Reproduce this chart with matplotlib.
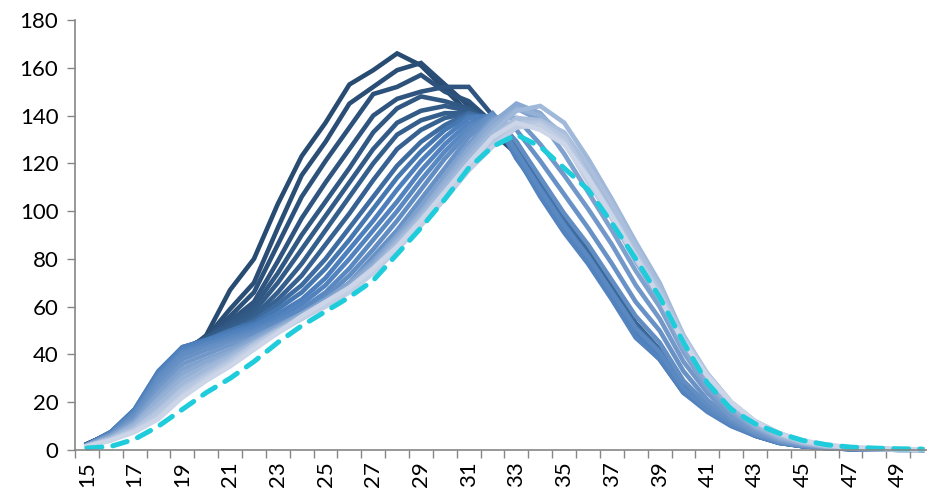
import numpy as np
import matplotlib
matplotlib.use("Agg")
import matplotlib.pyplot as plt
from matplotlib.colors import LinearSegmentedColormap

# ages on the category axis
ages = list(range(15, 51))

# one curve per year, oldest (dark) first, newest (light) last
s01 = [2.5, 7, 15, 29, 40, 48, 67, 80, 103, 123, 137, 153, 159, 166, 161, 151, 141, 133, 124, 109, 94, 80, 65, 49, 39, 25, 18, 15, 12, 7, 3.5, 1.5, 0.7, 0.4, 0.2, 0.1]
s02 = [2.5, 7, 15, 29, 41, 47, 59, 70, 93, 115, 129, 145, 152, 159, 162, 153, 144, 134, 125, 111, 96, 82, 67, 51, 41, 26, 18, 13, 9, 5, 2.2, 1.0, 0.5, 0.3, 0.2, 0.1]
s03 = [2.4, 7, 15, 30, 41, 47, 56, 66, 86, 106, 121, 135, 149, 152, 157, 150, 146, 137, 126, 113, 98, 84, 69, 53, 42, 27, 18, 11, 7, 3.5, 1.8, 0.9, 0.5, 0.3, 0.2, 0.1]
s04 = [2.4, 7, 15, 30, 41, 47, 54, 62, 79, 97, 112, 126, 140, 147, 150, 152, 152, 140, 128, 110, 95, 81, 66, 50, 40, 25, 17, 11, 7, 3.5, 1.8, 0.9, 0.5, 0.3, 0.2, 0.1]
s05 = [2.3, 7, 15, 30, 42, 47, 53, 60, 74, 90, 104, 118, 133, 143, 148, 146, 143, 137, 127, 108, 93, 79, 64, 48, 38, 24, 17, 11, 6.5, 3.5, 1.7, 0.9, 0.5, 0.3, 0.2, 0.1]
s06 = [2.3, 7, 16, 31, 42, 47, 52, 58, 70, 84, 98, 112, 126, 137, 142, 144, 142, 138, 127, 112, 97, 83, 68, 52, 41, 26, 17, 11, 6.5, 3.2, 1.7, 0.9, 0.5, 0.3, 0.2, 0.1]
s07 = [2.3, 7, 16, 31, 42, 46, 51, 56, 66, 78, 92, 106, 120, 132, 138, 141, 141, 137, 128, 111, 96, 82, 67, 51, 40, 25, 17, 11, 6.5, 3.2, 1.6, 0.8, 0.4, 0.2, 0.1, 0.1]
s08 = [2.2, 7, 16, 32, 42, 46, 50, 55, 63, 73, 86, 99, 113, 126, 134, 139, 141, 139, 129, 113, 98, 84, 69, 53, 42, 27, 18, 11, 6.5, 3.2, 1.6, 0.8, 0.4, 0.2, 0.1, 0.1]
s09 = [2.2, 7.5, 16, 32, 43, 46, 50, 54, 61, 69, 80, 93, 106, 119, 129, 136, 141, 138, 126, 112, 97, 82, 67, 52, 42, 27, 18, 11, 6, 3, 1.6, 0.8, 0.4, 0.2, 0.1, 0.1]
s10 = [2.2, 7.5, 17, 33, 43, 46, 50, 53, 59, 66, 76, 88, 101, 114, 125, 134, 140, 139, 124, 110, 95, 80, 65, 50, 40, 26, 17, 11, 6, 3, 1.6, 0.8, 0.4, 0.2, 0.1, 0.1]
s11 = [2.1, 7.5, 17, 33, 43, 46, 49, 52, 57, 63, 72, 84, 96, 109, 121, 131, 139, 140, 122, 108, 93, 79, 64, 49, 39, 25, 17, 10.5, 6, 3, 1.6, 0.8, 0.4, 0.2, 0.1, 0.1]
s12 = [2.1, 7, 16, 32, 42, 45, 48, 51, 55, 61, 69, 80, 92, 104, 117, 128, 137, 139, 123, 106, 91, 78, 63, 47, 38, 24, 16, 10, 6, 3, 1.6, 0.8, 0.4, 0.2, 0.1, 0.1]
s13 = [2, 7, 16, 31, 41, 44, 47, 50, 54, 59, 66, 76, 88, 100, 113, 125, 135, 140, 125, 109, 94, 81, 66, 51, 41, 26, 17, 11, 6.5, 3.2, 1.7, 0.9, 0.4, 0.2, 0.1, 0.1]
s14 = [2, 6.5, 15, 30, 40, 43, 46, 49, 53, 57, 64, 73, 84, 96, 109, 122, 133, 141, 129, 114, 99, 86, 71, 56, 45, 29, 19, 12, 7, 3.5, 1.8, 0.9, 0.5, 0.2, 0.1, 0.1]
s15 = [2, 6.5, 14, 28, 38, 42, 45, 48, 52, 56, 62, 70, 81, 92, 105, 118, 131, 140, 134, 121, 107, 93, 78, 62, 50, 33, 21, 13, 7, 3.5, 1.8, 0.9, 0.5, 0.3, 0.1, 0.1]
s16 = [1.9, 6, 13, 26, 36, 40, 44, 47, 51, 55, 61, 68, 78, 89, 102, 115, 128, 139, 139, 128, 115, 101, 86, 69, 55, 37, 24, 14, 8, 4, 2, 1, 0.5, 0.3, 0.2, 0.1]
s17 = [1.9, 6, 12, 24, 34, 38, 42, 47, 52, 57, 63, 70, 79, 90, 102, 115, 127, 138, 143, 138, 124, 108, 92, 75, 60, 41, 26, 16, 9, 4.5, 2.4, 1.2, 0.6, 0.3, 0.2, 0.1]
s18 = [1.8, 5.5, 11, 22, 32, 37, 41, 46, 51, 57, 62, 69, 78, 89, 100, 113, 126, 137, 145, 141, 130, 113, 97, 79, 63, 43, 28, 17, 10, 5, 2.6, 1.3, 0.7, 0.4, 0.2, 0.1]
s19 = [1.8, 5, 11, 21, 30, 35, 40, 45, 51, 56, 62, 68, 77, 88, 99, 112, 124, 135, 143, 140, 132, 117, 101, 83, 67, 46, 30, 18, 10, 5.5, 2.8, 1.4, 0.7, 0.4, 0.2, 0.1]
s20 = [1.7, 5, 10, 19, 28, 34, 39, 45, 50, 56, 61, 68, 76, 87, 98, 110, 122, 133, 142, 144, 137, 122, 105, 87, 70, 48, 31, 19, 11, 6, 3, 1.5, 0.8, 0.4, 0.2, 0.2]
s21 = [1.7, 4.5, 9, 17, 26, 32, 38, 44, 50, 55, 61, 67, 76, 86, 97, 108, 120, 131, 139, 138, 133, 119, 103, 85, 68, 48, 32, 20, 12, 6.5, 3.3, 1.7, 0.9, 0.5, 0.3, 0.2]
s22 = [1.6, 4.5, 8.5, 16, 25, 31, 37, 44, 50, 55, 61, 67, 75, 85, 96, 107, 118, 129, 137, 137, 131, 115, 99, 82, 66, 47, 32, 20, 12, 7, 3.6, 1.8, 1, 0.5, 0.3, 0.2]
s23 = [1.6, 4, 8, 14, 23, 30, 36, 43, 49, 55, 60, 66, 74, 84, 94, 105, 117, 127, 135, 136, 129, 112, 97, 80, 64, 46, 31, 20, 12, 7, 3.8, 2, 1.1, 0.6, 0.3, 0.2]
s24 = [1.5, 4, 7.5, 13, 22, 29, 35, 42, 49, 56, 62, 68, 76, 85, 96, 108, 120, 131, 137, 134, 128, 114, 98, 81, 64, 45, 31, 20, 12, 7, 4, 2.2, 1.2, 0.7, 0.4, 0.3]

# dashed reference curve
dashed = [0.8, 1.5, 4.5, 10, 17, 24, 30, 37, 45, 52, 58, 64, 71, 82, 93, 105, 118, 127, 132, 127, 118, 109, 95, 80, 64, 45, 28, 17, 11, 7, 4, 2.2, 1.2, 0.8, 0.5, 0.4]

series = [s01, s02, s03, s04, s05, s06, s07, s08, s09, s10, s11, s12,
          s13, s14, s15, s16, s17, s18, s19, s20, s21, s22, s23, s24]

plt.rcParams['font.family'] = ['Lato', 'DejaVu Sans']

cmap = LinearSegmentedColormap.from_list(
    'blues', [(0.0, '#284B72'), (0.3, '#36618F'), (0.42, '#4A7DBA'),
              (0.62, '#6A93C7'), (1.0, '#CCD6E8')])

fig = plt.figure(figsize=(9.28, 4.97), dpi=100)
ax = fig.add_axes([75 / 928, 47 / 497, 859 / 928, 430 / 497])

x = np.arange(len(ages))
n = len(series)
for i, s in enumerate(series):
    ax.plot(x, s, color=cmap(i / (n - 1)), linewidth=3.3,
            solid_joinstyle='miter', clip_on=False)

ax.plot(x, dashed, color='#1FCCDB', linewidth=3.6, dashes=(3, 2.2),
        dash_capstyle='round', clip_on=False)

ax.set_xlim(-0.5, len(ages) - 0.5)
ax.set_ylim(0, 180)
ax.set_yticks(range(0, 181, 20))

# tick marks on category boundaries, labels on odd ages
ax.set_xticks(np.arange(len(ages) + 1) - 0.5)
ax.set_xticklabels([])
ax.set_xticks(x[::2], minor=True)
ax.set_xticklabels([str(a) for a in ages[::2]], minor=True, rotation=90)
ax.tick_params(axis='x', which='minor', length=0, pad=8, labelsize=16)
ax.tick_params(axis='x', which='major', length=6, width=1, color='#868686')
ax.tick_params(axis='y', length=6, width=1, color='#868686', labelsize=16, pad=6)

ax.spines['top'].set_visible(False)
ax.spines['right'].set_visible(False)
ax.spines['left'].set_color('#868686')
ax.spines['bottom'].set_color('#868686')
ax.spines['left'].set_linewidth(1.2)
ax.spines['bottom'].set_linewidth(1.2)

fig.savefig('out.png', dpi=100)
